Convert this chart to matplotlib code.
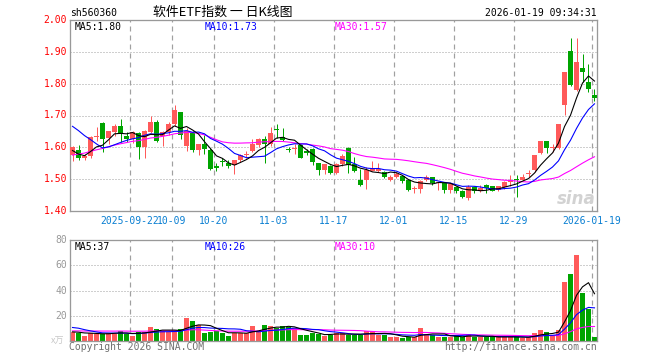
import numpy as np
import matplotlib
matplotlib.use('Agg')
import matplotlib.pyplot as plt
import pandas as pd

# ---------------- data ----------------
opens = [1.575, 1.593, 1.565, 1.574, 1.632, 1.677, 1.628, 1.647, 1.668, 1.637,
         1.626, 1.645, 1.600, 1.647, 1.681, 1.637, 1.647, 1.674, 1.710, 1.603,
         1.645, 1.593, 1.610, 1.593, 1.540, 1.555, 1.550, 1.545, 1.560, 1.575,
         1.590, 1.608, 1.625, 1.610, 1.657, 1.633, 1.595, 1.595, 1.607, 1.590,
         1.596, 1.550, 1.530, 1.540, 1.520, 1.549, 1.598, 1.549, 1.496, 1.496,
         1.527, 1.525, 1.522, 1.496, 1.506, 1.511, 1.498, 1.468, 1.470, 1.497,
         1.506, 1.488, 1.487, 1.466, 1.475, 1.464, 1.440, 1.475, 1.464, 1.482,
         1.477, 1.467, 1.475, 1.492, 1.500, 1.498, 1.515, 1.529, 1.583, 1.619,
         1.599, 1.599, 1.732, 1.903, 1.780, 1.850, 1.804, 1.764]
highs = [1.605, 1.607, 1.580, 1.635, 1.663, 1.681, 1.652, 1.674, 1.690, 1.647,
         1.650, 1.648, 1.653, 1.700, 1.687, 1.652, 1.680, 1.733, 1.712, 1.662,
         1.652, 1.612, 1.640, 1.597, 1.550, 1.565, 1.560, 1.560, 1.580, 1.590,
         1.625, 1.630, 1.635, 1.665, 1.672, 1.661, 1.600, 1.610, 1.610, 1.596,
         1.598, 1.552, 1.548, 1.543, 1.551, 1.580, 1.600, 1.570, 1.533, 1.538,
         1.556, 1.550, 1.525, 1.513, 1.521, 1.514, 1.500, 1.477, 1.498, 1.513,
         1.508, 1.492, 1.489, 1.489, 1.479, 1.467, 1.482, 1.478, 1.482, 1.484,
         1.480, 1.480, 1.494, 1.512, 1.512, 1.515, 1.530, 1.577, 1.620, 1.620,
         1.611, 1.672, 1.836, 1.943, 1.943, 1.894, 1.862, 1.783]
lows = [1.558, 1.561, 1.560, 1.565, 1.620, 1.584, 1.610, 1.636, 1.616, 1.616,
        1.615, 1.563, 1.568, 1.645, 1.616, 1.605, 1.640, 1.668, 1.625, 1.590,
        1.585, 1.575, 1.580, 1.528, 1.527, 1.540, 1.535, 1.515, 1.555, 1.565,
        1.585, 1.600, 1.550, 1.605, 1.630, 1.619, 1.585, 1.580, 1.565, 1.575,
        1.545, 1.512, 1.515, 1.515, 1.516, 1.540, 1.520, 1.522, 1.478, 1.468,
        1.525, 1.522, 1.503, 1.493, 1.503, 1.488, 1.462, 1.455, 1.456, 1.493,
        1.482, 1.467, 1.458, 1.455, 1.458, 1.440, 1.435, 1.457, 1.460, 1.458,
        1.462, 1.462, 1.470, 1.480, 1.445, 1.496, 1.506, 1.524, 1.580, 1.582,
        1.585, 1.596, 1.702, 1.792, 1.778, 1.805, 1.775, 1.746]
closes = [1.600, 1.565, 1.574, 1.634, 1.634, 1.626, 1.650, 1.668, 1.642, 1.626,
          1.647, 1.602, 1.650, 1.679, 1.621, 1.647, 1.674, 1.716, 1.640, 1.650,
          1.593, 1.610, 1.595, 1.533, 1.535, 1.553, 1.540, 1.560, 1.575, 1.580,
          1.610, 1.625, 1.610, 1.645, 1.655, 1.622, 1.593, 1.597, 1.568, 1.582,
          1.553, 1.528, 1.548, 1.520, 1.549, 1.572, 1.543, 1.525, 1.483, 1.528,
          1.535, 1.533, 1.508, 1.508, 1.517, 1.493, 1.467, 1.470, 1.493, 1.508,
          1.487, 1.490, 1.466, 1.485, 1.464, 1.443, 1.475, 1.464, 1.472, 1.472,
          1.464, 1.477, 1.490, 1.496, 1.498, 1.508, 1.517, 1.577, 1.619, 1.598,
          1.601, 1.672, 1.836, 1.797, 1.868, 1.836, 1.784, 1.756]
volumes = [7.2, 6.4, 4.0, 6.4, 5.9, 5.9, 6.4, 5.9, 7.7, 5.9,
           4.0, 7.2, 7.2, 11.2, 9.6, 8.0, 7.2, 7.2, 9.6, 18.4,
           16.0, 12.5, 6.7, 7.2, 8.0, 6.7, 4.0, 6.7, 6.7, 6.7,
           12.0, 8.0, 12.5, 12.0, 10.4, 12.0, 11.2, 10.4, 4.5, 4.5,
           6.4, 5.9, 4.0, 5.1, 6.4, 6.4, 5.1, 4.5, 4.5, 7.7,
           7.7, 5.1, 5.1, 3.2, 3.2, 2.4, 3.2, 3.2, 10.4, 5.9,
           5.1, 3.2, 3.2, 3.2, 4.0, 3.2, 5.9, 3.2, 3.2, 3.2,
           3.2, 3.2, 3.2, 3.2, 3.2, 2.4, 3.2, 6.7, 8.5, 6.9,
           4.5, 8.5, 47.0, 53.0, 68.0, 38.0, 25.0, 3.2]
# closes / volumes before the first visible day (only feed the moving averages)
prior_closes = [1.47, 1.48, 1.47, 1.49, 1.50, 1.49, 1.51, 1.52, 1.51, 1.53,
                1.54, 1.53, 1.55, 1.56, 1.55, 1.57, 1.58, 1.57, 1.59, 1.60,
                1.70, 1.73, 1.76, 1.77, 1.75, 1.62, 1.60, 1.57, 1.56]
prior_volumes = [6.0, 7.5, 6.2, 5.8, 7.0, 6.5, 7.2, 6.0, 6.8, 7.4,
                 6.3, 6.9, 7.1, 6.0, 6.6, 7.3, 6.4, 6.2, 7.0, 6.8,
                 12.0, 15.5, 16.0, 14.5, 13.0, 7.5, 7.0, 7.2, 7.1]
tick_labels = ['2025-09-22', '10-09', '10-20', '11-03', '11-17',
               '12-01', '12-15', '12-29', '2026-01-19']
tick_index = [10, 17, 24, 34, 44, 54, 64, 74, 87]
price_ticks = [1.40, 1.50, 1.60, 1.70, 1.80, 1.90, 2.00]
vol_ticks = [20, 40, 60, 80]

# ---------------- style ----------------
RED = '#ff5a5a'
GREEN = '#00a400'
GRID = '#a0a0a0'
SPINE = '#999999'
MONO = 'DejaVu Sans Mono'
plt.rcParams['font.family'] = ['Noto Sans CJK SC', 'DejaVu Sans']
plt.rcParams['lines.scale_dashes'] = False

W, H = 660, 360
PX = 72.0 / 100  # one pixel in points


def fx(x):
    return x / W


def fy(y):
    return 1 - y / H


n = len(closes)
idx = np.arange(n)

full_c = pd.Series(prior_closes + closes)
full_v = pd.Series(prior_volumes + volumes)
ma_p = {k: full_c.rolling(k).mean().values[-n:] for k in (5, 10, 30)}
ma_v = {k: full_v.rolling(k).mean().values[-n:] for k in (5, 10, 30)}
ma_colors = {5: '#000000', 10: '#0000ff', 30: '#ff00ff'}

fig = plt.figure(figsize=(6.6, 3.6), dpi=100)
L, R = 70, 597
ax = fig.add_axes([fx(L), fy(211), (R - L) / W, (211 - 20) / H])
axv = fig.add_axes([fx(L), fy(341), (R - L) / W, (341 - 240) / H])

xlim = ((L - 72.5) / 6, (R - 72.5) / 6)
for a in (ax, axv):
    a.set_xlim(*xlim)
    a.set_xticks([])
    a.set_yticks([])
    for s in a.spines.values():
        s.set_color(SPINE)
        s.set_linewidth(1.3 * PX)
    for t in tick_index:
        a.axvline(t - 0.42, color=GRID, lw=1.2 * PX,
                  linestyle=(0, (5 * PX, 4 * PX)), zorder=0)

ax.set_ylim(1.40, 2.00)
axv.set_ylim(0, 80)
for p in price_ticks[1:-1]:
    ax.axhline(p, color=GRID, lw=1 * PX, linestyle=(0, (1 * PX, 2 * PX)), zorder=0)
for v in vol_ticks[:-1]:
    axv.axhline(v, color=GRID, lw=1 * PX, linestyle=(0, (1 * PX, 2 * PX)), zorder=0)

# candles
colors = [RED if c >= o else GREEN for o, c in zip(opens, closes)]
ax.vlines(idx, lows, highs, colors=colors, lw=1 * PX, zorder=2)
bodies = [max(abs(c - o), 0.0032) for o, c in zip(opens, closes)]
bottoms = [min(o, c) for o, c in zip(opens, closes)]
ax.bar(idx, bodies, bottom=bottoms, width=0.82, color=colors, linewidth=0, zorder=3)
for k in (30, 10, 5):
    ax.plot(idx, ma_p[k], color=ma_colors[k], lw=1.1 * PX, zorder=4)

# volume
axv.bar(idx, volumes, width=0.82, color=colors, linewidth=0, zorder=2)
for k in (30, 10, 5):
    axv.plot(idx, ma_v[k], color=ma_colors[k], lw=1.1 * PX, zorder=4)

# ---------------- texts ----------------
FS = 7.0
for p in price_ticks:
    ypx = 20 + (2.00 - p) / 0.6 * 191
    fig.text(fx(67), fy(ypx), f'{p:.2f}', ha='right', va='center',
             color='#ff0000', family=MONO, fontsize=FS)
for v in vol_ticks:
    ypx = 341 - v / 80 * 101
    fig.text(fx(67), fy(ypx), f'{v}', ha='right', va='center',
             color='#999999', family=MONO, fontsize=FS)
fig.text(fx(64), fy(341), 'x万', ha='right', va='center', color='#c8c8c8',
         fontsize=6.5, family=['Noto Sans CJK SC', 'DejaVu Sans'])

for t, lab in zip(tick_index, tick_labels):
    xpx = 72.5 + 6 * (t - 0.42)
    fig.text(fx(xpx), fy(221.5), lab, ha='center', va='center',
             color='#0a7fd2', family=MONO, fontsize=FS)

fig.text(fx(70), fy(13.5), 'sh560360', ha='left', va='center',
         color='#000000', family=MONO, fontsize=FS)
fig.text(fx(223), fy(12.5), '软件ETF指数 一 日K线图', ha='center', va='center',
         color='#000000', fontsize=9.3, family=['Noto Sans CJK SC', 'DejaVu Sans'])
fig.text(fx(597), fy(13.5), '2026-01-19 09:34:31', ha='right', va='center',
         color='#000000', family=MONO, fontsize=FS)

fig.text(fx(75), fy(26.5), 'MA5:1.80', ha='left', va='center', color='#000000',
         family=MONO, fontsize=FS)
fig.text(fx(205), fy(26.5), 'MA10:1.73', ha='left', va='center', color='#0000ff',
         family=MONO, fontsize=FS)
fig.text(fx(334.5), fy(26.5), 'MA30:1.57', ha='left', va='center', color='#ff00ff',
         family=MONO, fontsize=FS)
fig.text(fx(75), fy(246.5), 'MA5:37', ha='left', va='center', color='#000000',
         family=MONO, fontsize=FS)
fig.text(fx(205), fy(246.5), 'MA10:26', ha='left', va='center', color='#0000ff',
         family=MONO, fontsize=FS)
fig.text(fx(334.5), fy(246.5), 'MA30:10', ha='left', va='center', color='#ff00ff',
         family=MONO, fontsize=FS)

fig.text(fx(69), fy(346.5), 'Copyright 2026 SINA.COM', ha='left', va='center',
         color='#707070', family=MONO, fontsize=FS)
fig.text(fx(597), fy(346.5), 'http://finance.sina.com.cn', ha='right', va='center',
         color='#707070', family=MONO, fontsize=FS)

fig.text(fx(596), fy(199), 'sina', ha='right', va='center', color='#d2d2d2',
         fontsize=12, fontweight='bold', style='italic', family='DejaVu Sans')

fig.savefig('out.png', dpi=100)
